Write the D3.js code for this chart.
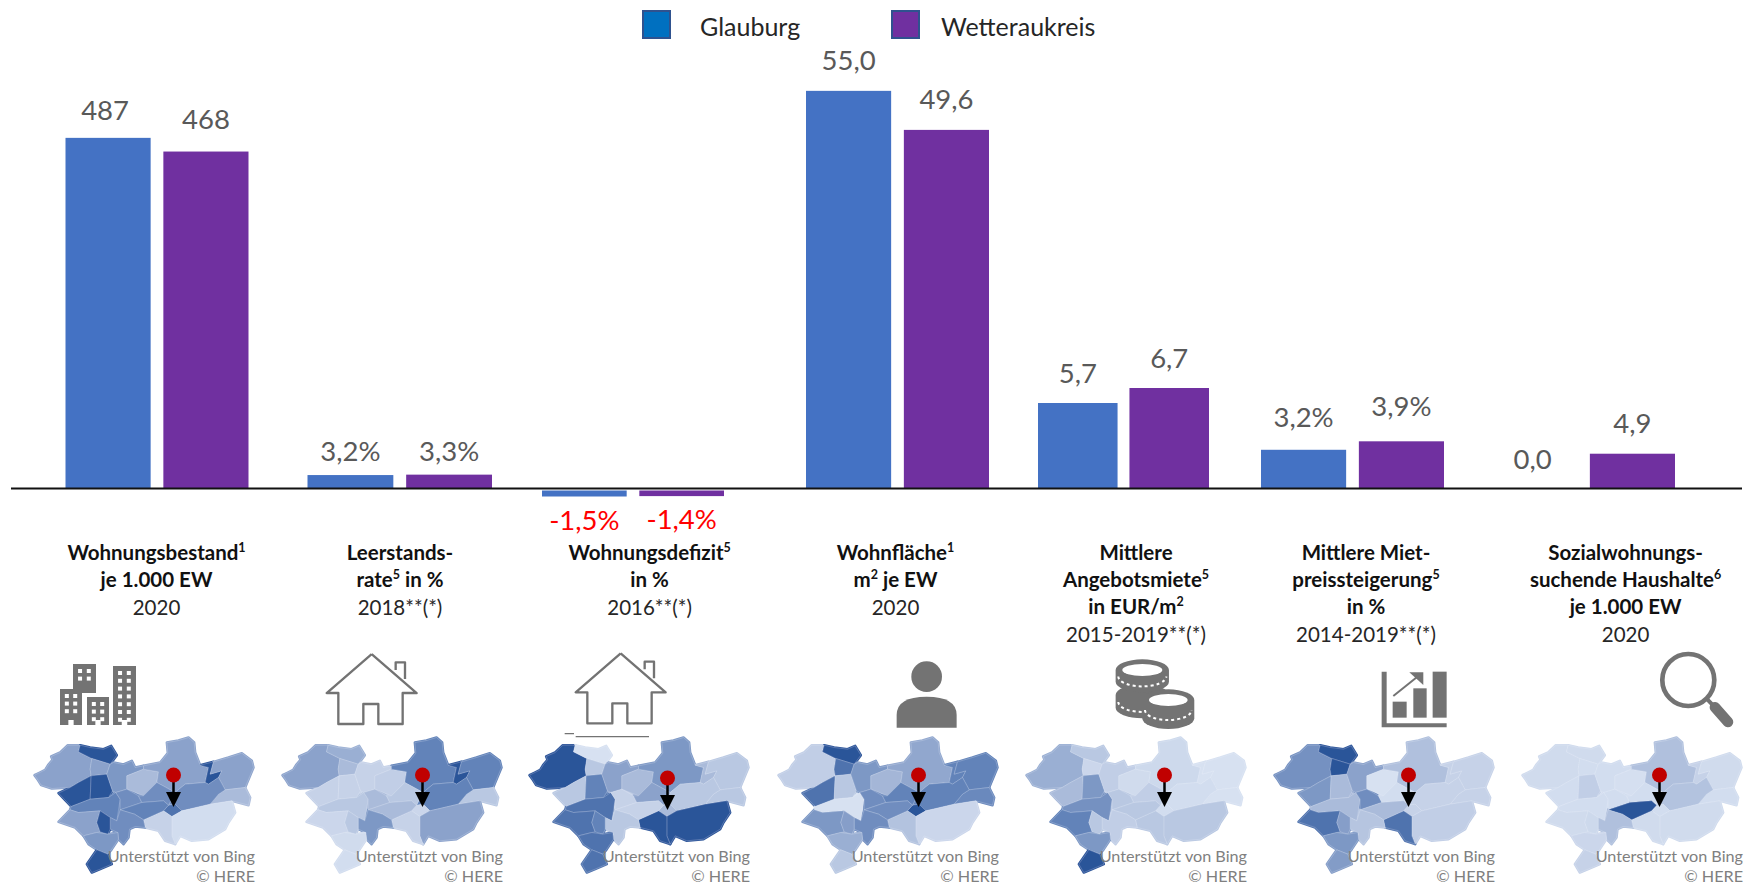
<!DOCTYPE html>
<html lang="de"><head><meta charset="utf-8">
<style>html,body{margin:0;background:#fff}svg{display:block}text{font-family:Lato,"Noto Sans",sans-serif}</style>
<script src="https://cdn.jsdelivr.net/npm/d3@7"></script></head>
<body><svg id="c" width="1753" height="894"></svg>
<script>
// ---- chart data ----
const seriesNames = ["Glauburg", "Wetteraukreis"];
const glauburg      = [487, 3.2, -1.5, 55.0, 5.7, 3.2, 0.0];
const wetteraukreis = [468, 3.3, -1.4, 49.6, 6.7, 3.9, 4.9];
const valueLabelsG  = ["487","3,2%","-1,5%","55,0","5,7","3,2%","0,0"];
const valueLabelsW  = ["468","3,3%","-1,4%","49,6","6,7","3,9%","4,9"];
const categoryTitles = [
  ["Wohnungsbestand^1","je 1.000 EW"],
  ["Leerstands-","rate^5 in %"],
  ["Wohnungsdefizit^5","in %"],
  ["Wohnfläche^1","m^2 je EW"],
  ["Mittlere","Angebotsmiete^5","in EUR/m^2"],
  ["Mittlere Miet-","preissteigerung^5","in %"],
  ["Sozialwohnungs-","suchende Haushalte^6","je 1.000 EW"]
];
const categoryYears = ["2020","2018**(*)","2016**(*)","2020","2015-2019**(*)","2014-2019**(*)","2020"];

// ---- map data: one shade per district, one array per panel ----
const shadesBestand   = [3,6,3,6,6,4.5,3.5,2,3,6,3,2,4,5,.5,1,4,4,4.5,4,3,6,3.5,6];
const shadesLeerstand = [3,2.5,2,1,1,1.5,1,1.2,4.5,6,4.5,1.5,4.5,.8,3,1,2,1.5,2,3.5,.8,1.5,.6,.5];
const shadesDefizit   = [6,.3,1.5,1.5,4.5,5,3,2,3.5,2,1.5,1.5,1.5,2,6,6,1,3,1,1.5,5,4.5,5,5];
const shadesFlaeche   = [1.2,6,5,5,1.5,.3,3.5,2.2,2.8,4.5,4.5,4.2,4.5,6,.8,1.7,4,4.5,4,4,3.5,3.2,2.5,1.5];
const shadesMiete     = [2.5,1.5,.8,2,3.5,3.8,1.2,.6,.7,.3,.3,.3,.5,.5,1.5,1.5,1.5,1.2,1.5,1.2,4.5,1.5,3.5,6];
const shadesSteigung  = [3.8,6,6,3.5,2,2,3,.3,1.8,1,1,1,1,1,1.2,5,4,.5,2,1.6,5,3.2,3.5,3.3];
const shadesSuchende  = [.6,.6,.5,.5,1.2,.5,.5,.4,1.8,1,.6,.5,1.7,.5,.6,.6,.5,.5,6,1.8,.6,.7,.8,1];
const mapShades = [shadesBestand,shadesLeerstand,shadesDefizit,shadesFlaeche,shadesMiete,shadesSteigung,shadesSuchende];
const districtOutlines = [
 [[18,128],[34,120],[50,112],[60,96],[72,82],[68,72],[95,60],[118,38],[155,38],[150,58],[190,78],[185,110],[188,130],[150,150],[125,165],[70,168],[38,158],[28,142]],
 [[155,38],[185,45],[225,50],[248,40],[265,68],[245,95],[190,78],[150,58]],
 [[190,78],[245,95],[235,125],[188,130],[185,110]],
 [[188,130],[185,200],[128,222],[90,182],[125,165],[150,150]],
 [[188,130],[235,125],[252,175],[240,195],[185,200]],
 [[128,222],[185,200],[240,195],[262,180],[275,200],[265,265],[245,255],[215,235],[150,240],[125,232]],
 [[245,95],[255,90],[285,96],[310,85],[320,105],[345,100],[345,110],[295,130],[295,170],[262,180],[252,175],[235,125]],
 [[295,130],[345,110],[390,118],[385,150],[345,190],[295,170]],
 [[345,100],[395,90],[418,62],[415,30],[450,24],[480,15],[497,30],[500,60],[515,98],[540,105],[530,150],[470,155],[440,180],[385,150],[390,118],[345,110]],
 [[515,98],[555,88],[545,125],[580,115],[570,135],[540,155],[530,150],[540,105]],
 [[555,88],[600,75],[640,62],[670,85],[675,105],[650,165],[590,172],[570,135],[580,115],[545,125]],
 [[570,185],[590,172],[650,165],[665,195],[660,218],[610,205],[545,215]],
 [[440,180],[470,155],[530,150],[540,155],[570,135],[590,172],[570,185],[545,215],[490,228],[460,235],[440,215],[420,218]],
 [[405,235],[420,218],[440,215],[460,235],[430,252]],
 [[430,252],[460,235],[490,228],[545,215],[610,205],[620,240],[600,270],[590,290],[540,320],[490,325],[455,310],[440,335],[430,310]],
 [[345,262],[405,235],[430,252],[430,310],[440,335],[410,325],[390,295],[350,285]],
 [[275,200],[262,180],[295,170],[330,190],[340,210],[275,232]],
 [[330,190],[345,190],[385,150],[440,180],[420,218],[405,205],[340,210]],
 [[275,232],[340,210],[405,205],[420,218],[405,235],[345,262],[318,245]],
 [[265,265],[275,232],[318,245],[345,262],[350,285],[320,282],[303,290],[300,315],[285,335],[270,320],[268,300],[245,290],[245,255]],
 [[90,268],[125,232],[150,240],[215,235],[205,270],[215,298],[205,300],[165,310],[140,285]],
 [[215,235],[245,255],[245,290],[238,305],[215,298],[205,270]],
 [[165,310],[205,300],[238,305],[268,300],[270,320],[250,350],[238,365],[205,352],[180,335]],
 [[205,352],[238,365],[250,395],[215,410],[190,420],[175,395]]
];

// ---- layout ----
const W = 1753, baseY = 488.5;
const groupExtent = [[65.5,248.5],[307.5,492],[542,724],[806,989],[1038,1209],[1261,1444],[1492,1675]];
const pxPerUnit = [.72,4.2,4,7.23,15,12.1,7.1];
const labelGapG = [17.5,14,0,20.5,20.5,22.5,20];
const labelGapW = [23,14,0,20.5,20.5,25,20.7];
const labelShiftG = [-3,0,0,0,0,0,-2];
const titleCenter = [156.5,400,649.6,895.5,1136,1366,1625.6];
const mapOffset = [0,248,495,744,992,1240,1488];
const pinOffset = [0,249,494,745,991,1235,1486];
const colors = {Glauburg:"#4472c4", Wetteraukreis:"#7030a0"};
const iconGrey = "#737373";

const svg = d3.select("#c");
const defs = svg.append("defs");
defs.append("filter").attr("id","soft").append("feGaussianBlur").attr("stdDeviation",.65);

// ---- legend ----
const legend = [{x:642,tx:700},{x:891,tx:941}];
seriesNames.forEach((s,i)=>{
  svg.append("rect").attr("x",legend[i].x+1).attr("y",11).attr("width",27).attr("height",27)
    .attr("fill",i?"#7030a0":"#0070c0").attr("stroke","#2f528f").attr("stroke-width",2);
  svg.append("text").attr("x",legend[i].tx).attr("y",36).attr("font-size",25).attr("fill","#262626").text(s);
});

// ---- bars ----
const rows = seriesNames.map((s,si)=>({s, values:si?wetteraukreis:glauburg, labels:si?valueLabelsW:valueLabelsG, gaps:si?labelGapW:labelGapG, shift:si?null:labelShiftG}));
categoryTitles.forEach((_,g)=>{
  const x = d3.scaleBand().domain(seriesNames).range(groupExtent[g]).paddingInner(.13);
  const maxV = Math.max(glauburg[g],wetteraukreis[g],0), minV = Math.min(glauburg[g],wetteraukreis[g],0);
  const zeroY = baseY+(g==2?2:0);
  const y = d3.scaleLinear().domain([minV,maxV]).range([zeroY-minV*pxPerUnit[g], zeroY-maxV*pxPerUnit[g]]);
  const G = svg.append("g");
  G.selectAll("rect").data(rows).join("rect")
    .attr("x",d=>x(d.s)).attr("width",x.bandwidth())
    .attr("y",d=>Math.min(y(0),y(d.values[g]))).attr("height",d=>Math.abs(y(d.values[g])-y(0)))
    .attr("fill",d=>colors[d.s]);
  G.selectAll("text").data(rows).join("text")
    .attr("x",d=>x(d.s)+x.bandwidth()/2+(d.shift?d.shift[g]:0))
    .attr("y",d=>d.values[g]<0 ? y(d.values[g])+33 : y(d.values[g])-d.gaps[g])
    .attr("text-anchor","middle").attr("font-size",27.5)
    .attr("fill",d=>d.values[g]<0?"#ff0000":"#595959").text(d=>d.labels[g]);
});
svg.append("line").attr("x1",11).attr("x2",1742).attr("y1",baseY).attr("y2",baseY).attr("stroke","#111").attr("stroke-width",2);

// ---- category titles ----
categoryTitles.forEach((lines,g)=>{
  const t = svg.append("g").attr("transform",`translate(${titleCenter[g]},0)`);
  lines.concat([categoryYears[g]]).forEach((line,i)=>{
    const isYear = i===lines.length;
    const el = t.append("text").attr("y",560+i*27+(isYear?1:0)).attr("text-anchor","middle")
      .attr("font-size",20.5).attr("font-weight",isYear?400:700).attr("fill",isYear?"#262626":"#111");
    let afterSup = false;
    line.split(/(\^\d)/).forEach(part=>{
      if(part.startsWith("^")){
        el.append("tspan").attr("font-size",12.5).attr("dy",-8).text(part.slice(1));
        afterSup = true;
      } else if(part){
        const ts = el.append("tspan").text(part);
        if(afterSup){ ts.attr("dy",8); afterSup = false; }
      }
    });
  });
});

// ---- icons ----
const city = svg.append("g").attr("fill",iconGrey);
[[60,689,22,36],[73,664,23,29],[87,697,22,28],[113,666,23,59]].forEach(([x,y,w,h],bi)=>{
  city.append("rect").attr("x",x).attr("y",y).attr("width",w).attr("height",h);
  const nRows = bi==3?7:(bi==1?2:3);
  d3.range(nRows).forEach(r=>[0,1].forEach(c=>{
    city.append("rect").attr("x",x+w*(c?.6:.22)).attr("y",y+5+r*(bi==3?7.8:7.6)).attr("width",4).attr("height",4).attr("fill","#fff");
  }));
  if(bi!=1) city.append("rect").attr("x",x+w*.38).attr("y",y+h-5).attr("width",w*.24).attr("height",5).attr("fill","#fff");
});
function house(dx,dy,under){
  const g = svg.append("g").attr("transform",`translate(${524+dx},${640+dy}) scale(${1/3})`)
    .attr("fill","none").attr("stroke",iconGrey).attr("stroke-width",7).attr("stroke-linejoin","round");
  g.append("path").attr("d","M290 40L155 157H190V250H265V190H310V250H383V157H425L290 40M362 88V65H390V115");
  if(under){ g.append("path").attr("d","M122 281H150M155 290H375").attr("stroke-width",4); }
}
house(-249,.7,false); house(0,0,true);
const person = svg.append("g").attr("transform","translate(770,620) scale(.3333)").attr("fill",iconGrey);
person.append("circle").attr("cx",470).attr("cy",170).attr("r",46);
person.append("path").attr("d","M380 323V285Q380 230 470 230Q560 230 560 285V323Z");
const coins = svg.append("g").attr("transform","translate(770,620) scale(.3333)");
function coin(cx,cy,rx,ry,h,top){
  coins.append("path").attr("d",`M${cx-rx} ${cy}A${rx} ${ry} 0 0 1 ${cx+rx} ${cy}V${cy+h}A${rx} ${ry} 0 0 1 ${cx-rx} ${cy+h}Z`).attr("fill",iconGrey);
  if(top) coins.append("ellipse").attr("cx",cx).attr("cy",cy).attr("rx",rx-20).attr("ry",ry-14).attr("fill","#fff");
  coins.append("path").attr("d",`M${cx-rx+8} ${cy+h*.55}A${rx-8} ${ry-2} 0 0 0 ${cx+rx-8} ${cy+h*.55}`)
    .attr("fill","none").attr("stroke","#fff").attr("stroke-width",6).attr("stroke-dasharray","9 9");
}
coin(1117,225,80,32,38,false); coin(1117,150,80,32,35,true); coin(1195,240,78,32,55,true);
const chartIcon = svg.append("g").attr("transform","translate(1250,620) scale(.3333)").attr("fill",iconGrey);
chartIcon.append("path").attr("d","M395 155H410V310H590V322H395Z");
[[428,245,42,48],[490,205,40,88],[548,155,42,138]].forEach(([x,y,w,h])=>chartIcon.append("rect").attr("x",x).attr("y",y).attr("width",w).attr("height",h));
chartIcon.append("path").attr("d","M430 228L505 168").attr("stroke",iconGrey).attr("stroke-width",6);
chartIcon.append("path").attr("d","M478 157H520V195Z");
const lens = svg.append("g").attr("transform","translate(1250,620) scale(.3333)").attr("fill","none").attr("stroke",iconGrey);
lens.append("circle").attr("cx",1315).attr("cy",180).attr("r",78).attr("stroke-width",14);
lens.append("path").attr("d","M1372 238L1395 262").attr("stroke-width",12);
lens.append("path").attr("d","M1395 262L1434 306").attr("stroke-width",32).attr("stroke-linecap","round");

// ---- maps ----
const shade = d3.scaleLinear().domain([0,1.5,3,4.5,6]).range(["#dfe7f5","#b9c8e2","#8ba2cb","#6283b9","#2c5499"]);
const features = districtOutlines.map(o=>({type:"Feature",geometry:{type:"Polygon",coordinates:[o.concat([o[0]])]}}));
mapOffset.forEach((dx,m)=>{
  const proj = d3.geoTransform({point(x,y){this.stream.point(28.5+dx+x/3,732.5+y/3);}});
  const path = d3.geoPath(proj);
  const mg = svg.append("g").attr("filter","url(#soft)");
  // underlay closes small cracks between the traced districts
  mg.append("g").selectAll("path").data(features).join("path")
    .attr("d",path).attr("fill",(d,i)=>shade(mapShades[m][i]))
    .attr("stroke",(d,i)=>shade(mapShades[m][i])).attr("stroke-width",2.5).attr("stroke-linejoin","round");
  mg.append("g").selectAll("path").data(features).join("path")
    .attr("d",path).attr("fill",(d,i)=>shade(mapShades[m][i]))
    .attr("stroke","#eef2f9").attr("stroke-opacity",.45).attr("stroke-width",.5).attr("stroke-linejoin","round");
  // attribution
  const a = svg.append("g").attr("text-anchor","end").attr("fill","#808080").attr("font-size",16.2);
  a.append("text").attr("x",255+dx).attr("y",862).text("Unterstützt von Bing");
  a.append("text").attr("x",255+dx).attr("y",882).text("© HERE");
  // pin
  const px = 173.5+pinOffset[m], py = 775+(m==2?3:0);
  svg.append("line").attr("x1",px).attr("x2",px).attr("y1",py).attr("y2",py+22).attr("stroke","#000").attr("stroke-width",2.5);
  svg.append("path").attr("d",`M${px-7.5} ${py+17}H${px+7.5}L${px} ${py+32}Z`).attr("fill","#000");
  svg.append("circle").attr("cx",px).attr("cy",py).attr("r",7.5).attr("fill","#c00000");
});
</script></body></html>
